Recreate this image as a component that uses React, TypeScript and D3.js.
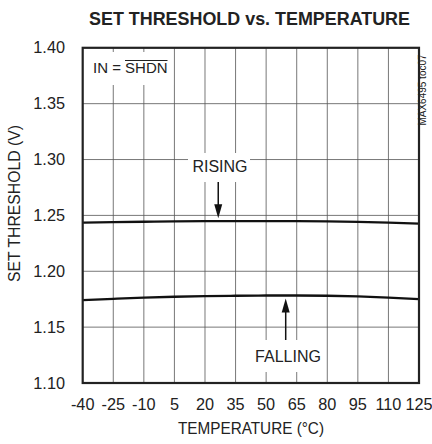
import React from "react";
import * as d3 from "d3";

const temps = [-40, -25, -10, 5, 20, 35, 50, 65, 80, 95, 110, 125];
const rising = [1.2436, 1.244, 1.2443, 1.2446, 1.2448, 1.2449, 1.2449, 1.2449, 1.2447, 1.2442, 1.2435, 1.2426];
const falling = [1.1741, 1.1753, 1.1764, 1.1772, 1.1778, 1.1781, 1.1783, 1.1783, 1.1781, 1.1775, 1.1764, 1.175];
const xTicks = temps;
const yTicks = [1.1, 1.15, 1.2, 1.25, 1.3, 1.35, 1.4];

const W = 432, H = 444;
const L = 82.7, R = 419, T = 47.8, B = 383;
const FONT = "'Liberation Sans', Arial, sans-serif";

export default function App() {
  const x = d3.scaleLinear().domain([-40, 125]).range([L, R]);
  const y = d3.scaleLinear().domain([1.1, 1.4]).range([B, T]);
  const line = d3
    .line<number>()
    .x((_, i) => x(temps[i]))
    .y((d) => y(d))
    .curve(d3.curveMonotoneX);

  const risX = x(26.5);
  const falX = x(59.6);
  const risTip = y(rising[4]) - 3;
  const falTip = y(falling[6]) + 3;

  return (
    <svg width={W} height={H} style={{ position: "absolute", left: 0, top: 0, background: "#fff" }} fontFamily={FONT}>
      <rect x={0} y={0} width={W} height={H} fill="#fff" />
      <text x={89} y={25} fontSize={17.5} fontWeight="bold" fill="#222" textLength={321} lengthAdjust="spacingAndGlyphs">
        SET THRESHOLD vs. TEMPERATURE
      </text>
      {/* grid */}
      {xTicks.slice(1, -1).map((t) => (
        <line key={"vx" + t} x1={x(t)} x2={x(t)} y1={T} y2={B} stroke="#555" strokeWidth={0.8} />
      ))}
      {yTicks.slice(1, -1).map((t) => (
        <line key={"hy" + t} x1={L} x2={R} y1={y(t)} y2={y(t)} stroke="#555" strokeWidth={0.8} />
      ))}
      {/* label boxes */}
      <rect x={L + 1.5} y={52} width={89} height={33} fill="#fff" />
      <rect x={188} y={153} width={62} height={29} fill="#fff" />
      <rect x={252} y={340} width={73} height={32} fill="#fff" />
      {/* curves */}
      <path d={line(rising) || ""} fill="none" stroke="#111" strokeWidth={2.3} />
      <path d={line(falling) || ""} fill="none" stroke="#111" strokeWidth={2.3} />
      {/* border */}
      <rect x={L} y={T} width={R - L} height={B - T} fill="none" stroke="#222" strokeWidth={2.2} />
      {/* y ticks */}
      {yTicks.map((t) => (
        <text key={"yt" + t} x={65} y={y(t) + 5.5} textAnchor="end" fontSize={16.3} fill="#222">
          {t.toFixed(2)}
        </text>
      ))}
      {xTicks.map((t) => (
        <text key={"xt" + t} x={x(t)} y={410} textAnchor="middle" fontSize={16.3} fill="#222">
          {t}
        </text>
      ))}
      <text x={251} y={434} textAnchor="middle" fontSize={16} fill="#222" textLength={146} lengthAdjust="spacingAndGlyphs">
        TEMPERATURE (°C)
      </text>
      <text transform="translate(20,203.5) rotate(-90)" textAnchor="middle" fontSize={16} fill="#222" textLength={157} lengthAdjust="spacingAndGlyphs">
        SET THRESHOLD (V)
      </text>
      <text transform="translate(426,90) rotate(-90)" textAnchor="middle" fontSize={10} fill="#222">
        MAX6495 toc07
      </text>
      {/* annotations */}
      <text x={93} y={73} fontSize={15} fill="#222">IN = SHDN</text>
      <line x1={125} x2={167.5} y1={60.5} y2={60.5} stroke="#222" strokeWidth={1} />
      <text x={220} y={172} textAnchor="middle" fontSize={16} fill="#222">RISING</text>
      <line x1={risX} x2={risX} y1={182} y2={risTip - 12} stroke="#111" strokeWidth={1.5} />
      <path d={`M${risX - 4},${risTip - 14} L${risX + 4},${risTip - 14} L${risX},${risTip} Z`} fill="#111" />
      <text x={288} y={362} textAnchor="middle" fontSize={16} fill="#222">FALLING</text>
      <line x1={falX} x2={falX} y1={340} y2={falTip + 12} stroke="#111" strokeWidth={1.5} />
      <path d={`M${falX - 4},${falTip + 14} L${falX + 4},${falTip + 14} L${falX},${falTip} Z`} fill="#111" />
    </svg>
  );
}
